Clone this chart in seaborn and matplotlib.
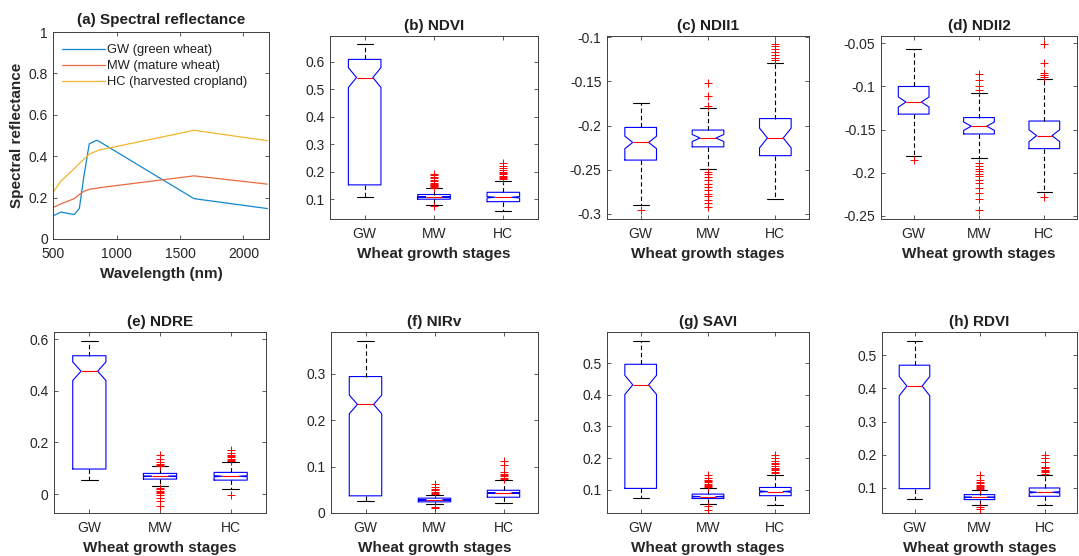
import numpy as np
import pandas as pd
import matplotlib
matplotlib.use("Agg")
import matplotlib.pyplot as plt
import seaborn as sns

# ---------------- data ----------------
categories = ["GW", "MW", "HC"]

# (a) spectral reflectance (Sentinel-2 band centres, nm)
wavelengths = [490, 560, 665, 705, 740, 783, 842, 865, 1610, 2190]
refl_gw = [0.110, 0.130, 0.118, 0.148, 0.300, 0.460, 0.477, 0.470, 0.195, 0.147]
refl_mw = [0.150, 0.170, 0.195, 0.215, 0.230, 0.240, 0.245, 0.248, 0.305, 0.265]
refl_hc = [0.220, 0.280, 0.340, 0.365, 0.385, 0.410, 0.425, 0.430, 0.525, 0.475]
series_labels = ["GW (green wheat)", "MW (mature wheat)", "HC (harvested cropland)"]

# box statistics per stage: [lower whisker, Q1, median, Q3, upper whisker]
ndvi_stats = [[0.107, 0.152, 0.542, 0.608, 0.664],
              [0.080, 0.100, 0.108, 0.117, 0.139],
              [0.057, 0.091, 0.107, 0.125, 0.166]]
ndvi_n = [395, 400, 400]
ndvi_fliers = [[],
               [0.075, 0.142, 0.145, 0.148, 0.150, 0.153, 0.156, 0.160, 0.165, 0.170, 0.176, 0.182, 0.188, 0.193],
               [0.172, 0.176, 0.180, 0.185, 0.190, 0.195, 0.200, 0.206, 0.213, 0.220, 0.230]]

ndii1_stats = [[-0.290, -0.239, -0.219, -0.202, -0.174],
               [-0.249, -0.224, -0.214, -0.205, -0.180],
               [-0.283, -0.234, -0.214, -0.192, -0.129]]
ndii1_n = [69, 58, 35]
ndii1_fliers = [[-0.296],
                [-0.152, -0.167, -0.178, -0.253, -0.255, -0.258, -0.262, -0.266, -0.270, -0.273,
                 -0.277, -0.280, -0.284, -0.288, -0.292],
                [-0.107, -0.110, -0.113, -0.117, -0.120, -0.123, -0.126]]

ndii2_stats = [[-0.180, -0.132, -0.118, -0.100, -0.057],
               [-0.183, -0.155, -0.146, -0.136, -0.108],
               [-0.222, -0.172, -0.157, -0.140, -0.091]]
ndii2_n = [75, 38, 54]
ndii2_fliers = [[-0.185],
                [-0.086, -0.093, -0.099, -0.104, -0.189, -0.192, -0.195, -0.198, -0.201, -0.204,
                 -0.208, -0.212, -0.218, -0.223, -0.230, -0.243],
                [-0.051, -0.073, -0.084, -0.087, -0.089, -0.228]]

ndre_stats = [[0.055, 0.097, 0.476, 0.536, 0.592],
              [0.032, 0.058, 0.069, 0.080, 0.107],
              [0.019, 0.054, 0.069, 0.084, 0.124]]
ndre_n = [368, 400, 400]
ndre_fliers = [[],
               [0.110, 0.114, 0.118, 0.123, 0.136, 0.152, 0.023, 0.018, 0.013, 0.008, 0.003,
                -0.003, -0.015, -0.028, -0.045],
               [0.127, 0.132, 0.137, 0.142, 0.147, 0.152, 0.159, 0.172, -0.003]]

nirv_stats = [[0.025, 0.037, 0.234, 0.294, 0.370],
              [0.019, 0.024, 0.028, 0.032, 0.038],
              [0.022, 0.034, 0.043, 0.049, 0.071]]
nirv_n = [404, 400, 400]
nirv_fliers = [[],
               [0.040, 0.043, 0.046, 0.049, 0.052, 0.055, 0.062, 0.014, 0.011],
               [0.073, 0.076, 0.079, 0.082, 0.085, 0.088, 0.104, 0.111]]

savi_stats = [[0.073, 0.104, 0.431, 0.496, 0.571],
              [0.055, 0.072, 0.078, 0.086, 0.104],
              [0.053, 0.081, 0.094, 0.107, 0.147]]
savi_n = [421, 400, 400]
savi_fliers = [[],
               [0.108, 0.111, 0.115, 0.119, 0.123, 0.127, 0.131, 0.137, 0.147, 0.047, 0.037],
               [0.153, 0.157, 0.161, 0.165, 0.170, 0.175, 0.180, 0.184, 0.190, 0.200, 0.210]]

rdvi_stats = [[0.068, 0.098, 0.407, 0.470, 0.544],
              [0.050, 0.065, 0.072, 0.080, 0.095],
              [0.048, 0.075, 0.087, 0.100, 0.138]]
rdvi_n = [405, 400, 400]
rdvi_fliers = [[],
               [0.098, 0.101, 0.104, 0.107, 0.110, 0.114, 0.118, 0.125, 0.138, 0.042, 0.037],
               [0.143, 0.147, 0.151, 0.155, 0.159, 0.164, 0.179, 0.189, 0.199]]

ndvi_ticks = [0.1, 0.2, 0.3, 0.4, 0.5, 0.6]
ndii1_ticks = [-0.3, -0.25, -0.2, -0.15, -0.1]
ndii2_ticks = [-0.25, -0.2, -0.15, -0.1, -0.05]
ndre_ticks = [0, 0.2, 0.4, 0.6]
nirv_ticks = [0, 0.1, 0.2, 0.3]
savi_ticks = [0.1, 0.2, 0.3, 0.4, 0.5]
rdvi_ticks = [0.1, 0.2, 0.3, 0.4, 0.5]
refl_yticks = [0, 0.2, 0.4, 0.6, 0.8, 1]
refl_xticks = [500, 1000, 1500, 2000]

# ---------------- style ----------------
sns.set_style("ticks")
plt.rcParams["font.family"] = ["Liberation Sans", "DejaVu Sans"]
plt.rcParams["axes.edgecolor"] = "#404040"
plt.rcParams["axes.linewidth"] = 0.7
plt.rcParams["text.color"] = "#202020"

W, H = 1079, 556
fig = plt.figure(figsize=(W / 100, H / 100), dpi=100)


def pos(l, r, t, b):
    return [l / W, 1 - b / H, (r - l) / W, (b - t) / H]


def style_axes(ax):
    ax.tick_params(direction="in", length=3, width=0.6, top=True, right=True,
                   labelsize=10, labelcolor="#262626", color="#404040")
    ax.tick_params(axis="x", pad=6)
    ax.tick_params(axis="y", pad=4)
    for s in ax.spines.values():
        s.set_visible(True)
        s.set_linewidth(0.7)
        s.set_color("#404040")


# (a) spectral reflectance
ax = fig.add_axes(pos(53.4, 268.7, 32, 239))
spec = pd.DataFrame({
    "wavelength": wavelengths * 3,
    "reflectance": refl_gw + refl_mw + refl_hc,
    "class": sum([[lab] * len(wavelengths) for lab in series_labels], []),
})
sns.lineplot(data=spec, x="wavelength", y="reflectance", hue="class",
             palette=["#1287cc", "#ec6a42", "#f0b62c"], linewidth=0.9, ax=ax)
ax.set_xlim(500, 2200)
ax.set_ylim(0, 1)
ax.set_xticks(refl_xticks)
ax.set_xticklabels([f"{t:g}" for t in refl_xticks])
ax.set_yticks(refl_yticks)
ax.set_yticklabels([f"{t:g}" for t in refl_yticks])
ax.set_xlabel("Wavelength (nm)", fontsize=11, fontweight="bold", labelpad=4)
ax.set_ylabel("Spectral reflectance", fontsize=11, fontweight="bold", labelpad=3)
ax.set_title("(a) Spectral reflectance", fontsize=11, fontweight="bold", pad=6)
handles, labels = ax.get_legend_handles_labels()
ax.legend(handles, labels, frameon=False, loc="upper left",
          bbox_to_anchor=(0.042, 0.94), borderaxespad=0, borderpad=0,
          fontsize=9.3, handlelength=3.3, handletextpad=0.15, labelspacing=0.3)
style_axes(ax)


def box_panel(rect, stats, counts, fliers, title, ticks, ylim):
    ax = fig.add_axes(rect)
    rows = []
    for cat, (lo, q1, med, q3, hi), n in zip(categories, stats, counts):
        k = max(1, (n - 2) // 3)
        vals = [lo] + [q1] * k + [med] * k + [q3] * k + [hi]
        rows += [(cat, v) for v in vals]
    df = pd.DataFrame(rows, columns=["stage", "value"])
    sns.boxplot(data=df, x="stage", y="value", order=categories, ax=ax,
                whis=(0, 100), notch=True, fill=False, width=0.47,
                color="blue", linewidth=0.8,
                medianprops=dict(color="red"),
                whiskerprops=dict(color="black", linestyle=(0, (4, 2.5))),
                capprops=dict(color="black"))
    fdf = pd.DataFrame([(c, v) for c, fl in zip(categories, fliers) for v in fl],
                       columns=["stage", "value"])
    sns.stripplot(data=fdf, x="stage", y="value", order=categories, ax=ax,
                  jitter=False, marker="+", color="red", size=6, linewidth=0.7)
    ax.set_xlim(-0.5, 2.5)
    ax.set_ylim(*ylim)
    ax.set_yticks(ticks)
    ax.set_yticklabels([f"{t:g}" for t in ticks])
    ax.set_xlabel("Wheat growth stages", fontsize=11, fontweight="bold", labelpad=4)
    ax.set_ylabel("")
    ax.set_title(title, fontsize=11, fontweight="bold", pad=4)
    style_axes(ax)
    return ax


box_panel(pos(330, 538, 36, 219), ndvi_stats, ndvi_n, ndvi_fliers, "(b) NDVI", ndvi_ticks, (0.028, 0.693))
box_panel(pos(607, 809, 36, 219), ndii1_stats, ndii1_n, ndii1_fliers, "(c) NDII1", ndii1_ticks, (-0.3057, -0.0985))
box_panel(pos(881, 1077, 36, 219), ndii2_stats, ndii2_n, ndii2_fliers, "(d) NDII2", ndii2_ticks, (-0.2535, -0.0415))
box_panel(pos(54, 266, 332, 513), ndre_stats, ndre_n, ndre_fliers, "(e) NDRE", ndre_ticks, (-0.0734, 0.628))
box_panel(pos(331, 538, 332, 513), nirv_stats, nirv_n, nirv_fliers, "(f) NIRv", nirv_ticks, (0.0, 0.390))
box_panel(pos(607, 809, 332, 513), savi_stats, savi_n, savi_fliers, "(g) SAVI", savi_ticks, (0.0263, 0.598))
box_panel(pos(882, 1077, 332, 513), rdvi_stats, rdvi_n, rdvi_fliers, "(h) RDVI", rdvi_ticks, (0.0246, 0.570))

fig.savefig("out.png", dpi=100, facecolor="white")
